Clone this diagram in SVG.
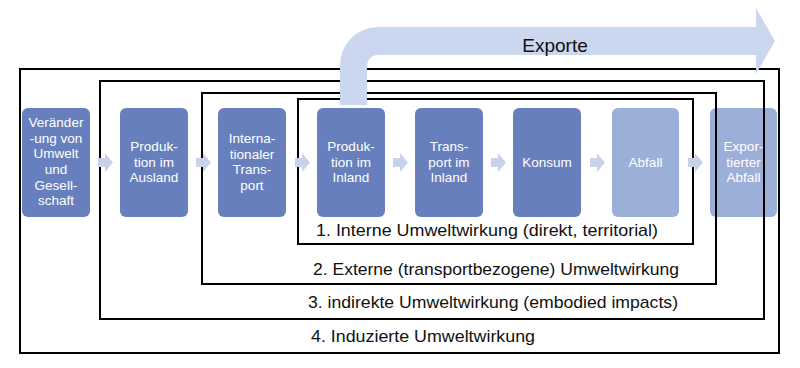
<svg xmlns="http://www.w3.org/2000/svg" width="800" height="368" viewBox="0 0 800 368">
<style>
.node rect{rx:6px}
.dark{fill:#6780bd}
.light{fill:#9cafd9}
.nt{font-family:"Liberation Sans",Arial,sans-serif;font-size:13.5px;fill:#ffffff;text-anchor:middle}
.frame{fill:none;stroke:#000;stroke-width:2}
.lbl{font-family:"Liberation Sans",Arial,sans-serif;font-size:17px;fill:#111}
.chev{fill:#c8d3ea}
.big{fill:#cbd7ee}
</style>
<rect width="800" height="368" fill="#ffffff"/>
<g id="n1" class="node"><rect class="dark" x="22" y="108" width="68" height="109"/>
<text class="nt"><tspan x="56" y="127">Veränder</tspan><tspan x="56" y="143">-ung von</tspan><tspan x="56" y="158">Umwelt</tspan><tspan x="56" y="174">und</tspan><tspan x="56" y="190">Gesell-</tspan><tspan x="56" y="205">schaft</tspan></text></g>
<g id="n2" class="node"><rect class="dark" x="120" y="108" width="68" height="109"/>
<text class="nt"><tspan x="154" y="151">Produk-</tspan><tspan x="154" y="167">tion im</tspan><tspan x="154" y="182">Ausland</tspan></text></g>
<g id="n3" class="node"><rect class="dark" x="218" y="108" width="68" height="109"/>
<text class="nt"><tspan x="252" y="143">Interna-</tspan><tspan x="252" y="159">tionaler</tspan><tspan x="252" y="174">Trans-</tspan><tspan x="252" y="190">port</tspan></text></g>
<g id="n4" class="node"><rect class="dark" x="317" y="108" width="68" height="109"/>
<text class="nt"><tspan x="351" y="151">Produk-</tspan><tspan x="351" y="167">tion im</tspan><tspan x="351" y="182">Inland</tspan></text></g>
<g id="n5" class="node"><rect class="dark" x="415" y="108" width="68" height="109"/>
<text class="nt"><tspan x="449" y="151">Trans-</tspan><tspan x="449" y="167">port im</tspan><tspan x="449" y="182">Inland</tspan></text></g>
<g id="n6" class="node"><rect class="dark" x="513" y="108" width="68" height="109"/>
<text class="nt" x="547" y="167">Konsum</text></g>
<g id="n7" class="node"><rect class="light" x="612" y="108" width="67" height="109"/>
<text class="nt" x="645.5" y="167">Abfall</text></g>
<g id="n8" class="node"><rect class="light" x="710" y="108" width="67" height="109"/>
<text class="nt"><tspan x="743.5" y="151">Expor-</tspan><tspan x="743.5" y="167">tierter</tspan><tspan x="743.5" y="182">Abfall</tspan></text></g>
<g id="frames">
<rect class="frame" x="20" y="69" width="759" height="284"/>
<rect class="frame" x="100" y="81" width="664" height="238"/>
<rect class="frame" x="202" y="93" width="514" height="191"/>
<rect class="frame" x="298" y="99" width="395" height="145"/>
<text class="lbl" x="316" y="236" textLength="342" lengthAdjust="spacingAndGlyphs">1. Interne Umweltwirkung (direkt, territorial)</text>
<text class="lbl" x="313" y="275" textLength="366" lengthAdjust="spacingAndGlyphs">2. Externe (transportbezogene) Umweltwirkung</text>
<text class="lbl" x="308" y="308" textLength="370" lengthAdjust="spacingAndGlyphs">3. indirekte Umweltwirkung (embodied impacts)</text>
<text class="lbl" x="311" y="342" textLength="224" lengthAdjust="spacingAndGlyphs">4. Induzierte Umweltwirkung</text>
</g>
<g id="connectors">
<path class="chev" d="M98,158h7v-5l8,9.5l-8,9.5v-5h-7z"/>
<path class="chev" d="M196,158h7v-5l8,9.5l-8,9.5v-5h-7z"/>
<path class="chev" d="M295,158h7v-5l8,9.5l-8,9.5v-5h-7z"/>
<path class="chev" d="M393,158h7v-5l8,9.5l-8,9.5v-5h-7z"/>
<path class="chev" d="M491,158h7v-5l8,9.5l-8,9.5v-5h-7z"/>
<path class="chev" d="M590,158h7v-5l8,9.5l-8,9.5v-5h-7z"/>
<path class="chev" d="M688,158h7v-5l8,9.5l-8,9.5v-5h-7z"/>
<path id="exporte" class="big" d="M340,105L340,65A38,38 0 0 1 378,27L756,27L756,8L775,41L756,74L756,55L378,55A11,11 0 0 0 367,66L367,105Z"/>
<text x="555" y="52" font-family="'Liberation Sans',Arial,sans-serif" font-size="19" fill="#111" text-anchor="middle">Exporte</text>
</g>
</svg>
